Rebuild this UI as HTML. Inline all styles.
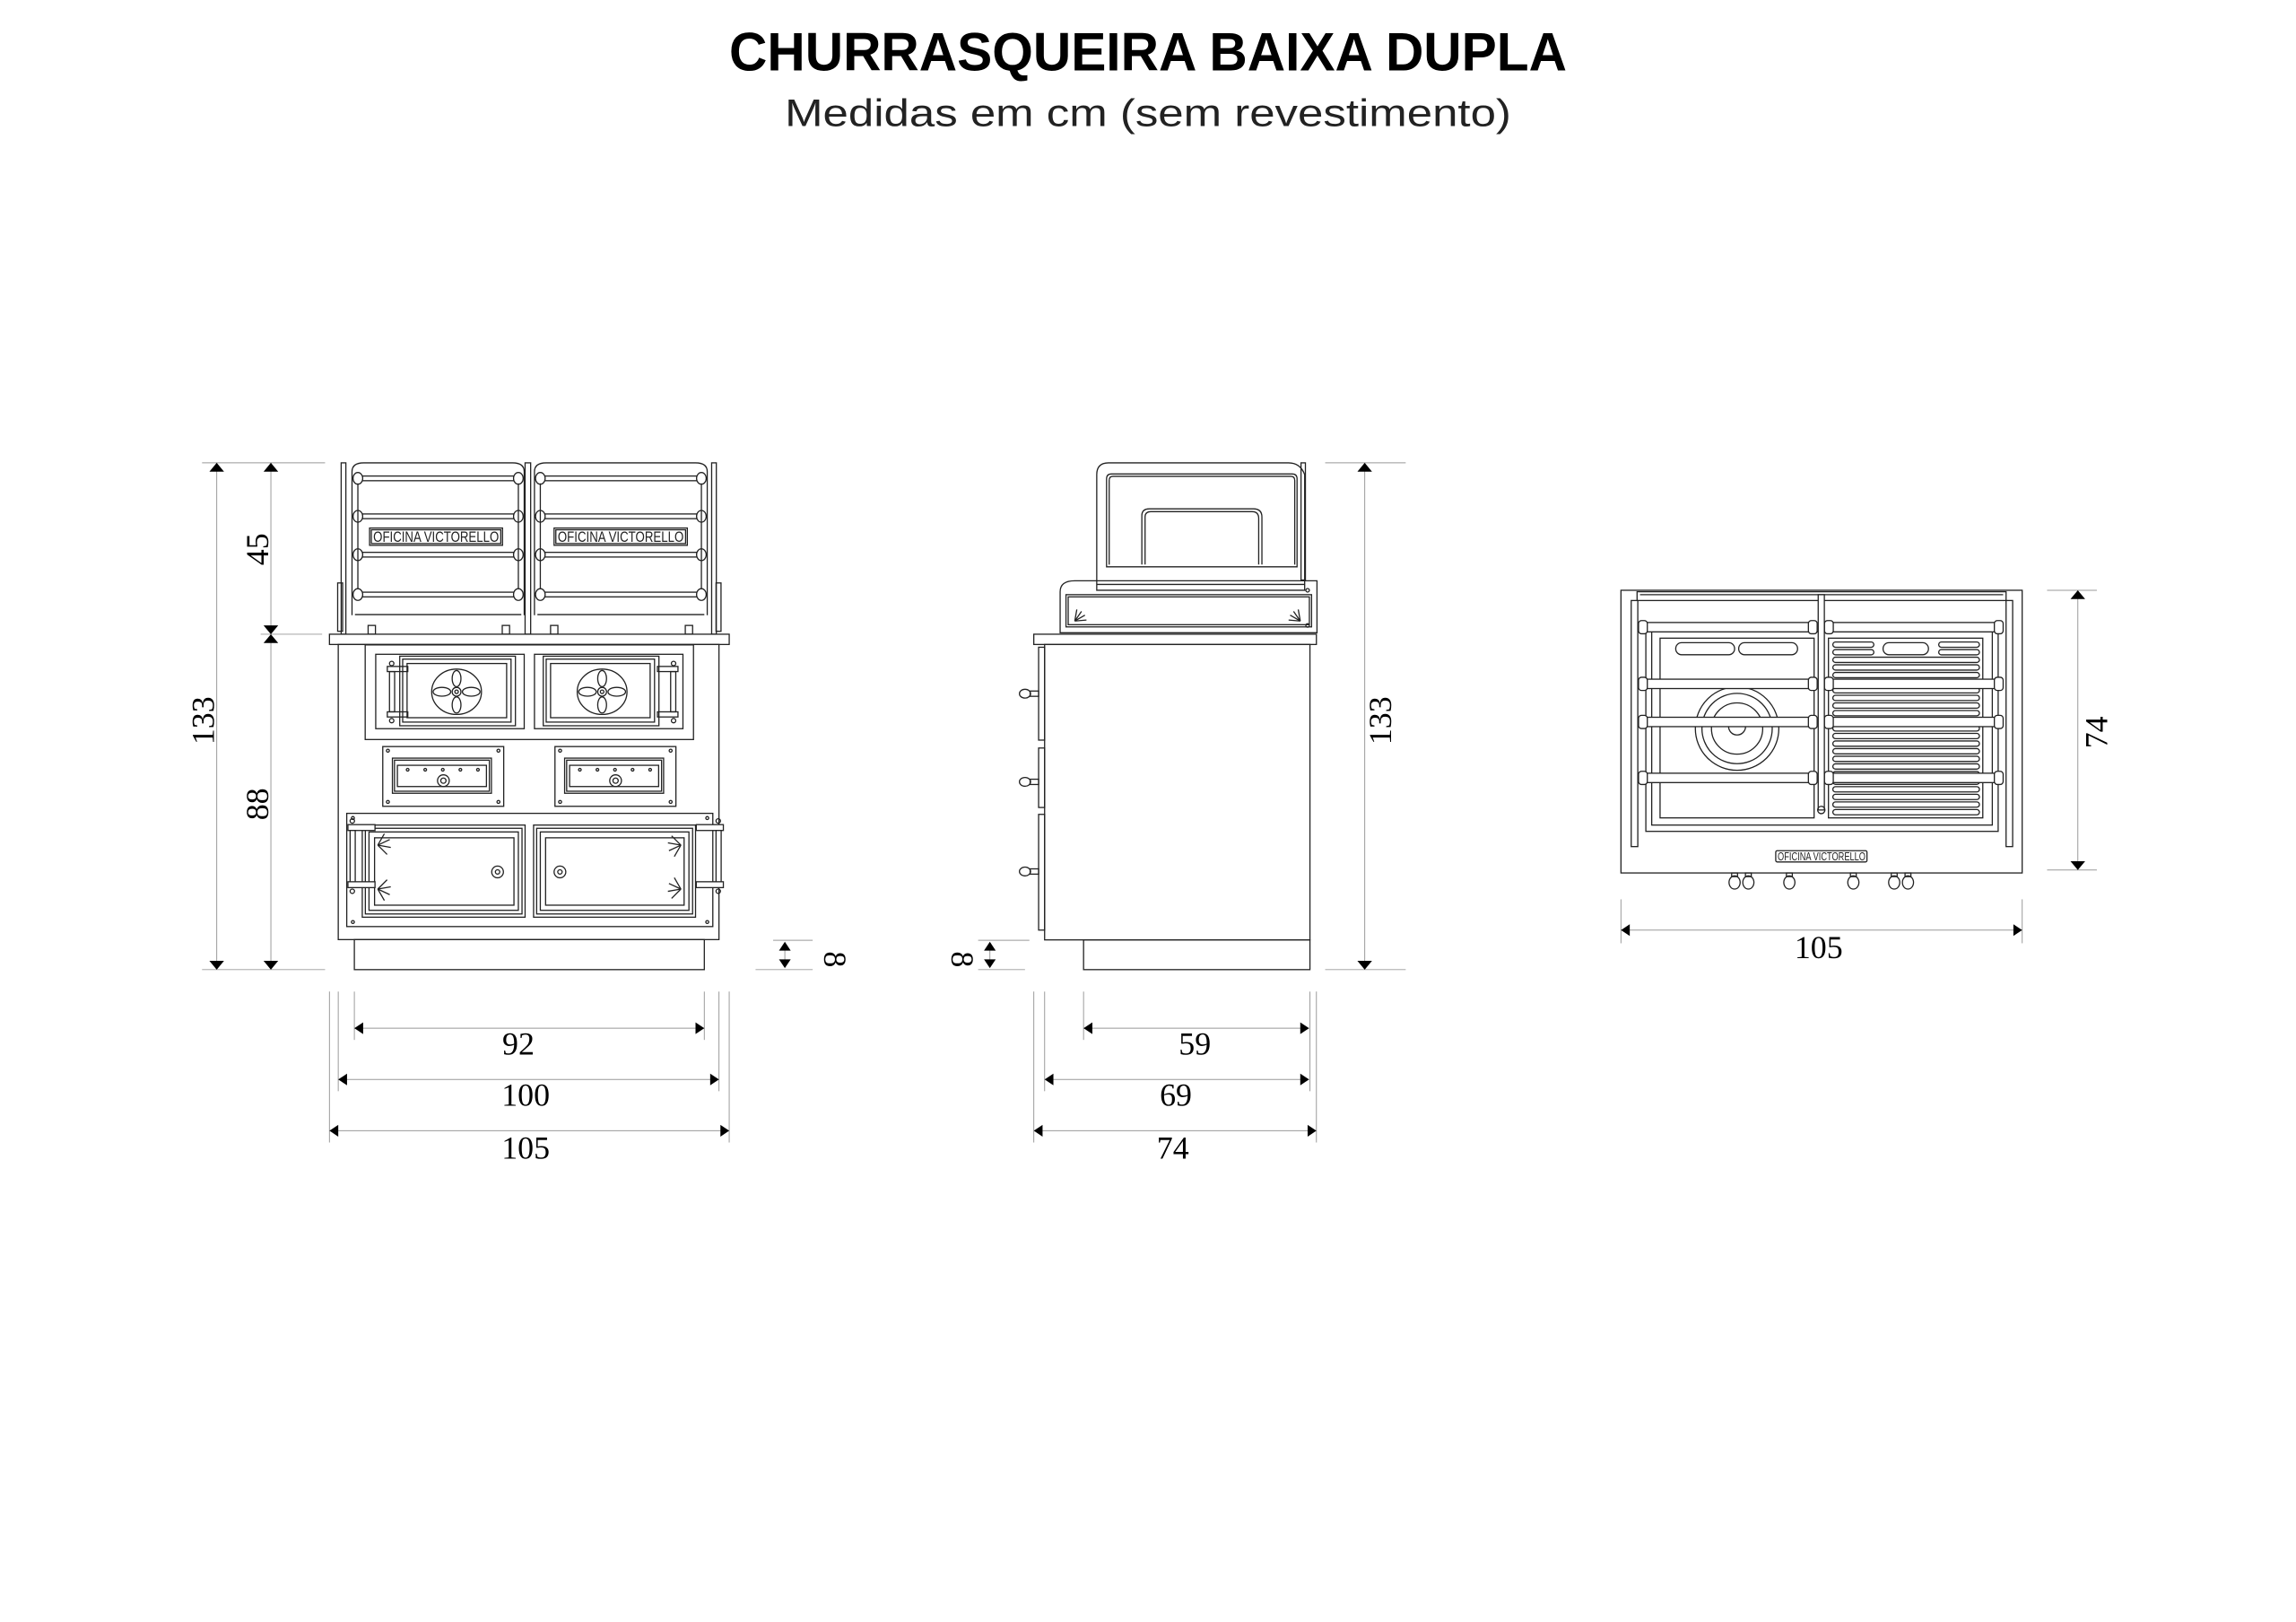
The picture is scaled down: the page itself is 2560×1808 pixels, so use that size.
<!DOCTYPE html>
<html><head><meta charset="utf-8">
<style>
html,body{margin:0;padding:0;background:#fff;}
svg{display:block;}
.l{stroke:#222;stroke-width:0.8;fill:none;}
.lf{stroke:#222;stroke-width:0.8;fill:#fff;}
.d{stroke:#999;stroke-width:0.6;fill:none;}
.a{fill:#000;stroke:none;}
.n{font-family:"Liberation Serif",serif;font-size:22px;fill:#000;text-anchor:middle;}
.p{font-family:"Liberation Sans",sans-serif;font-size:8px;fill:#222;}
</style></head>
<body>
<svg id="s" width="2560" height="1808" viewBox="0 0 1568 1107.4" preserveAspectRatio="none" xmlns="http://www.w3.org/2000/svg">
<text x="784" y="48" text-anchor="middle" textLength="572" lengthAdjust="spacingAndGlyphs" style="font-family:'Liberation Sans',sans-serif;font-weight:bold;font-size:37px;fill:#000">CHURRASQUEIRA BAIXA DUPLA</text>
<text x="784" y="86" text-anchor="middle" textLength="496" lengthAdjust="spacingAndGlyphs" style="font-family:'Liberation Sans',sans-serif;font-size:26px;fill:#222">Medidas em cm (sem revestimento)</text>

<!-- ============ FRONT VIEW ============ -->
<g id="front">
<line class="d" x1="138" y1="316" x2="222" y2="316"/>
<line class="d" x1="138" y1="662" x2="222" y2="662"/>
<line class="d" x1="178" y1="433" x2="220" y2="433"/>
<line class="d" x1="148" y1="316" x2="148" y2="662"/>
<line class="d" x1="185" y1="316" x2="185" y2="662"/>
<polygon class="a" points="148,316 143,322 153,322"/>
<polygon class="a" points="148,662 143,656 153,656"/>
<polygon class="a" points="185,316 180,322 190,322"/>
<polygon class="a" points="185,433 180,427 190,427"/>
<polygon class="a" points="185,433 180,439 190,439"/>
<polygon class="a" points="185,662 180,656 190,656"/>
<text class="n" transform="translate(146,492) rotate(-90)">133</text>
<text class="n" transform="translate(183,375) rotate(-90)">45</text>
<text class="n" transform="translate(183,549) rotate(-90)">88</text>
<line class="d" x1="528" y1="642" x2="555" y2="642"/>
<line class="d" x1="516" y1="662" x2="555" y2="662"/>
<line class="d" x1="536" y1="645" x2="536" y2="659"/>
<polygon class="a" points="536,643 532,649 540,649"/>
<polygon class="a" points="536,661 532,655 540,655"/>
<text class="n" transform="translate(563,655) rotate(90)">8</text>
<line class="d" x1="225" y1="677" x2="225" y2="780"/>
<line class="d" x1="498" y1="677" x2="498" y2="780"/>
<line class="d" x1="231" y1="677" x2="231" y2="745"/>
<line class="d" x1="491" y1="677" x2="491" y2="745"/>
<line class="d" x1="242" y1="677" x2="242" y2="710"/>
<line class="d" x1="481" y1="677" x2="481" y2="710"/>
<line class="d" x1="242" y1="702" x2="481" y2="702"/>
<polygon class="a" points="242,702 248,698 248,706"/><polygon class="a" points="481,702 475,698 475,706"/>
<line class="d" x1="231" y1="737" x2="491" y2="737"/>
<polygon class="a" points="231,737 237,733 237,741"/><polygon class="a" points="491,737 485,733 485,741"/>
<line class="d" x1="225" y1="772" x2="498" y2="772"/>
<polygon class="a" points="225,772 231,768 231,776"/><polygon class="a" points="498,772 492,768 492,776"/>
<text class="n" x="354" y="720">92</text>
<text class="n" x="359" y="755">100</text>
<text class="n" x="359" y="791">105</text>

<g id="rack"></g>
<rect class="lf" x="225" y="433" width="273" height="7"/>
<rect class="l" x="231" y="440" width="260" height="201.5"/>
<rect class="l" x="242" y="641.5" width="239" height="20.5"/>
<rect class="l" x="249.4" y="440.3" width="224.2" height="64.6"/>
<rect class="l" x="256.6" y="446.7" width="101.4" height="50.8"/>
<rect class="l" x="365" y="446.7" width="101.4" height="50.8"/>
<rect class="l" x="273" y="448" width="79" height="47.5"/><rect class="l" x="275" y="450" width="74" height="43"/><rect class="l" x="278" y="453" width="68" height="37"/>
<rect class="l" x="371" y="448" width="79" height="47.5"/><rect class="l" x="373" y="450" width="74" height="43"/><rect class="l" x="376" y="453" width="68" height="37"/>
<g id="ovens"></g>
<g id="drawers"></g>
<rect class="l" x="236.8" y="555.3" width="250" height="77.3"/>
<rect class="l" x="247.4" y="563.3" width="111.2" height="62.9"/><rect class="l" x="249.5" y="565.5" width="107" height="58.5"/><rect class="l" x="252" y="568" width="102" height="53.5"/>
<rect class="l" x="255.8" y="572" width="95.2" height="46"/>
<rect class="l" x="364.4" y="563.3" width="110.6" height="62.9"/><rect class="l" x="366.5" y="565.5" width="106.5" height="58.5"/><rect class="l" x="369" y="568" width="101.5" height="53.5"/>
<rect class="l" x="372.6" y="572" width="94.6" height="46"/>
<circle class="l" cx="339.8" cy="595.3" r="4"/><circle class="l" cx="339.8" cy="595.3" r="1.5"/>
<circle class="l" cx="382.4" cy="595.3" r="4"/><circle class="l" cx="382.4" cy="595.3" r="1.5"/>
<g id="lowerh"></g>
</g>

<!-- ============ SIDE VIEW ============ -->
<g id="side">
<line class="d" x1="905" y1="316" x2="960" y2="316"/>
<line class="d" x1="905" y1="662" x2="960" y2="662"/>
<line class="d" x1="932" y1="316" x2="932" y2="662"/>
<polygon class="a" points="932,316 927,322 937,322"/>
<polygon class="a" points="932,662 927,656 937,656"/>
<text class="n" transform="translate(950,492) rotate(-90)">133</text>
<line class="d" x1="668" y1="642" x2="703" y2="642"/>
<line class="d" x1="668" y1="662" x2="700" y2="662"/>
<line class="d" x1="676" y1="645" x2="676" y2="659"/>
<polygon class="a" points="676,643 672,649 680,649"/>
<polygon class="a" points="676,661 672,655 680,655"/>
<text class="n" transform="translate(650,655) rotate(90)">8</text>
<line class="d" x1="706" y1="677" x2="706" y2="780"/>
<line class="d" x1="899" y1="677" x2="899" y2="780"/>
<line class="d" x1="713.4" y1="677" x2="713.4" y2="745"/>
<line class="d" x1="894.6" y1="677" x2="894.6" y2="745"/>
<line class="d" x1="740" y1="677" x2="740" y2="710"/>
<line class="d" x1="740" y1="702" x2="894" y2="702"/>
<polygon class="a" points="740,702 746,698 746,706"/><polygon class="a" points="894,702 888,698 888,706"/>
<line class="d" x1="713.4" y1="737" x2="894" y2="737"/>
<polygon class="a" points="713.4,737 719.4,733 719.4,741"/><polygon class="a" points="894,737 888,733 888,741"/>
<line class="d" x1="706" y1="772" x2="899" y2="772"/>
<polygon class="a" points="706,772 712,768 712,776"/><polygon class="a" points="899,772 893,768 893,776"/>
<text class="n" x="816" y="720">59</text>
<text class="n" x="803" y="755">69</text>
<text class="n" x="801" y="791">74</text>

<rect class="lf" x="706" y="433" width="193" height="7"/>
<rect class="l" x="713.4" y="440" width="181.2" height="201.7"/>
<rect class="l" x="740" y="641.7" width="154.6" height="20.3"/>
<rect class="l" x="709.3" y="441.9" width="4.1" height="63.4"/>
<rect class="l" x="709.3" y="510.7" width="4.1" height="40.6"/>
<rect class="l" x="709.3" y="556" width="4.1" height="79"/>
<g id="sideh"></g>
<path class="l" d="M724,432 L724,404 Q724,396.5 734,396.5 L899.4,396.5 L899.4,432 Z"/>
<rect class="l" x="728" y="406" width="167.7" height="22"/>
<rect class="l" x="729.5" y="407.5" width="164.7" height="19"/>
<circle class="l" cx="893" cy="403" r="1.2"/><circle class="l" cx="893" cy="427" r="1.2"/>
<path class="l" d="M749,403 L749,324 Q749,316 757,316 L880,316 Q888,316 891,324 L891,403 Z"/>
<path class="l" d="M755.7,387 L755.7,327 Q755.7,323.6 759,323.6 L882.5,323.6 Q885.8,323.6 885.8,327 L885.8,387 Z"/>
<path class="l" d="M757.5,385.5 L757.5,328 Q757.5,325.2 760,325.2 L881.5,325.2 Q884.2,325.2 884.2,328 L884.2,385.5"/>
<path class="l" d="M779.8,385.4 L779.8,352 Q779.8,347.4 785,347.4 L856,347.4 Q861.8,347.4 861.8,353 L861.8,385.4"/>
<path class="l" d="M782,385.4 L782,353 Q782,349.3 786,349.3 L855,349.3 Q859.6,349.3 859.6,354 L859.6,385.4"/>
<rect class="l" x="888.5" y="316" width="3" height="80"/>
<line class="l" x1="749" y1="399" x2="891" y2="399"/>
<g id="sidefan"></g>
</g>

<!-- ============ TOP VIEW ============ -->
<g id="top">
<line class="d" x1="1398" y1="403" x2="1432" y2="403"/>
<line class="d" x1="1398" y1="594" x2="1432" y2="594"/>
<line class="d" x1="1419" y1="403" x2="1419" y2="594"/>
<polygon class="a" points="1419,403 1414,409 1424,409"/>
<polygon class="a" points="1419,594 1414,588 1424,588"/>
<text class="n" transform="translate(1439,500) rotate(-90)">74</text>
<line class="d" x1="1107" y1="614" x2="1107" y2="644"/>
<line class="d" x1="1381" y1="614" x2="1381" y2="644"/>
<line class="d" x1="1107" y1="635" x2="1381" y2="635"/>
<polygon class="a" points="1107,635 1113,631 1113,639"/><polygon class="a" points="1381,635 1375,631 1375,639"/>
<text class="n" x="1242" y="654">105</text>

<rect class="l" x="1107" y="403" width="274" height="193"/>
<rect class="l" x="1118" y="404" width="252" height="6"/>
<line class="l" x1="1120" y1="406" x2="1368" y2="406"/>
<rect class="l" x="1124" y="431.3" width="240.6" height="136.3"/>
<rect class="l" x="1128" y="431.3" width="232.6" height="132"/>
<rect class="l" x="1133.7" y="435.7" width="105.2" height="122.7"/>
<rect class="l" x="1248.7" y="435.7" width="105.4" height="122.7"/>
<rect class="l" x="1144.4" y="438.8" width="40.2" height="8.2" rx="4"/>
<rect class="l" x="1187.4" y="438.8" width="40.2" height="8.2" rx="4"/>
<circle class="l" cx="1186.3" cy="497.4" r="28.5"/>
<circle class="l" cx="1186.3" cy="497.4" r="24"/>
<circle class="l" cx="1186.3" cy="497.4" r="17.5"/>
<path class="l" d="M1180.5,496 A5.8,5.8 0 0 0 1192.1,496 Z"/>
<g id="grill"></g>
<rect class="lf" x="1114" y="410" width="4.5" height="168"/>
<rect class="lf" x="1370" y="410" width="4.5" height="168"/>
<rect class="lf" x="1241.7" y="406" width="4.2" height="147"/>
<circle class="l" cx="1243.8" cy="553" r="2.5"/>
<g id="trails"></g>
<rect class="l" x="1212.7" y="580.8" width="62.3" height="7.7" rx="1"/>
<text class="p" x="1244" y="587.3" text-anchor="middle" textLength="60" lengthAdjust="spacingAndGlyphs" style="font-size:8px">OFICINA VICTORELLO</text>
<g id="knobs"></g>
</g>
</svg>
<script>
var NS="http://www.w3.org/2000/svg";
function el(p,t,a){var e=document.createElementNS(NS,t);for(var k in a)e.setAttribute(k,a[k]);document.getElementById(p).appendChild(e);return e;}
[[240.4,358],[365,483]].forEach(function(p){
  var a=p[0],b=p[1];
  el("rack","path",{"class":"l",d:"M"+a+",420 L"+a+",322 Q"+a+",316 "+(a+8)+",316 L"+(b-8)+",316 Q"+b+",316 "+b+",322 L"+b+",420"});
  [326.6,352.5,378.7,405.9].forEach(function(y){
    el("rack","rect",{"class":"l",x:a+6,y:y-1.6,width:b-a-12,height:3.2});
    el("rack","ellipse",{"class":"lf",cx:a+4,cy:y,rx:3.3,ry:4});
    el("rack","ellipse",{"class":"lf",cx:b-4,cy:y,rx:3.3,ry:4});
  });
  el("rack","line",{"class":"l",x1:a+2,y1:419.6,x2:b-2,y2:419.6});
  el("rack","line",{"class":"l",x1:a+4,y1:330,x2:a+4,y2:402});
  el("rack","line",{"class":"l",x1:b-4,y1:330,x2:b-4,y2:402});
  el("rack","rect",{"class":"l",x:a+11,y:427,width:5,height:6});
  el("rack","rect",{"class":"l",x:b-15,y:427,width:5,height:6});
});
[[233,3.2],[358.6,3.8],[486,3.2]].forEach(function(p){el("rack","rect",{"class":"lf",x:p[0],y:316,width:p[1],height:117});});
el("rack","rect",{"class":"l",x:230.6,y:398,width:3.4,height:33});
el("rack","rect",{"class":"l",x:489,y:398,width:3.4,height:33});
[[252.4,343.2],[378.4,469.4]].forEach(function(p){
  el("rack","rect",{"class":"lf",x:p[0],y:360.5,width:p[1]-p[0],height:11.8});
  el("rack","rect",{"class":"l",x:p[0]+1.2,y:361.7,width:p[1]-p[0]-2.4,height:9.4});
  var t=el("rack","text",{"class":"p",x:(p[0]+p[1])/2,y:370,"text-anchor":"middle",textLength:p[1]-p[0]-5,lengthAdjust:"spacingAndGlyphs",style:"font-size:10px"});t.textContent="OFICINA VICTORELLO";
});
[[311.8,1],[411.2,-1]].forEach(function(p){
  var cx=p[0],cy=472.3;
  el("ovens","ellipse",{"class":"l",cx:cx,cy:cy,rx:17,ry:15.5});
  el("ovens","circle",{"class":"l",cx:cx,cy:cy,r:3});el("ovens","circle",{"class":"l",cx:cx,cy:cy,r:1.2});
  el("ovens","ellipse",{"class":"l",cx:cx,cy:cy-9,rx:3,ry:5.5});
  el("ovens","ellipse",{"class":"l",cx:cx,cy:cy+9,rx:3,ry:5.5});
  el("ovens","ellipse",{"class":"l",cx:cx-10,cy:cy,rx:6,ry:3});
  el("ovens","ellipse",{"class":"l",cx:cx+10,cy:cy,rx:6,ry:3});
  var hx=p[1]>0?264.5:449;
  el("ovens","rect",{"class":"l",x:hx,y:455,width:14,height:3.5});
  el("ovens","rect",{"class":"l",x:hx,y:486,width:14,height:3.5});
  el("ovens","rect",{"class":"l",x:hx+(p[1]>0?1.5:9),y:458.5,width:3.5,height:27.5});
  el("ovens","circle",{"class":"l",cx:hx+(p[1]>0?3:11),cy:453,r:1.5});
  el("ovens","circle",{"class":"l",cx:hx+(p[1]>0?3:11),cy:492,r:1.5});
});
[261.4,379].forEach(function(x){
  el("drawers","rect",{"class":"l",x:x,y:509.7,width:82.6,height:40.8});
  el("drawers","rect",{"class":"l",x:x+6.6,y:517.6,width:67.6,height:24});
  el("drawers","rect",{"class":"l",x:x+8,y:519,width:64.8,height:21.2});
  el("drawers","rect",{"class":"l",x:x+10,y:522.5,width:60.8,height:14.5});
  [x+3.5,x+79].forEach(function(sx){[512.5,547.5].forEach(function(sy){el("drawers","circle",{"class":"l",cx:sx,cy:sy,r:1});});});
  for(var i=0;i<5;i++)el("drawers","circle",{"class":"l",cx:x+17+i*12,cy:525.5,r:0.9});
  el("drawers","circle",{"class":"l",cx:x+41.4,cy:533,r:4});el("drawers","circle",{"class":"l",cx:x+41.4,cy:533,r:1.8});
});
[[237.6,1],[475.5,-1]].forEach(function(p){
  var x=p[0];
  el("lowerh","rect",{"class":"lf",x:x,y:563,width:18.5,height:4});
  el("lowerh","rect",{"class":"lf",x:x,y:602,width:18.5,height:4});
  el("lowerh","rect",{"class":"lf",x:(p[1]>0?x+1.5:x+13.5),y:567,width:3.5,height:35});
  el("lowerh","circle",{"class":"l",cx:(p[1]>0?x+3:x+15),cy:560.5,r:1.5});
  el("lowerh","circle",{"class":"l",cx:(p[1]>0?x+3:x+15),cy:608.5,r:1.5});
  var fx=p[1]>0?258:465;
  [577,607].forEach(function(fy){for(var k=0;k<4;k++){var ang=(-60+k*35)*Math.PI/180*p[1];
    el("lowerh","line",{"class":"l",x1:fx,y1:fy,x2:fx+p[1]*9*Math.cos(ang),y2:fy+9*Math.sin(ang)*(fy<590?1:-1),"stroke-width":"1.4"});}});
});
[[241,558.5],[483,558.5],[241,629.5],[483,629.5]].forEach(function(c){el("lowerh","circle",{"class":"l",cx:c[0],cy:c[1],r:1});});
[473.6,533.8,595].forEach(function(y){
  el("sideh","ellipse",{"class":"l",cx:700,cy:y,rx:3.8,ry:3});
  el("sideh","rect",{"class":"l",x:703.5,y:y-1.8,width:5.8,height:3.6});
});
[[734,1],[888,-1]].forEach(function(p){for(var k=0;k<4;k++){var ang=(-80+k*25)*Math.PI/180;
  el("sidefan","line",{"class":"l",x1:p[0],y1:424,x2:p[0]+p[1]*8*Math.cos(ang),y2:424+8*Math.sin(ang),"stroke-width":"1.3"});}});
for(var i=0;i<23;i++){var y=438.3+i*5.2;
  if(i==0||i==1){el("grill","rect",{"class":"l",x:1251.7,y:y,width:28,height:3.6,rx:1.8});el("grill","rect",{"class":"l",x:1324,y:y,width:27.8,height:3.6,rx:1.8});}
  else el("grill","rect",{"class":"l",x:1251.7,y:y,width:100.1,height:3.6,rx:1.8});}
el("grill","rect",{"class":"lf",x:1286,y:438.8,width:31,height:8.2,rx:4});
[428.2,466.9,492.9,531.1].forEach(function(y){
  [[1119,1241],[1246,1368]].forEach(function(p){
    el("trails","rect",{"class":"lf",x:p[0]+4,y:y-3.2,width:p[1]-p[0]-8,height:6.4});
    el("trails","rect",{"class":"lf",x:p[0],y:y-4.5,width:6,height:9,rx:2});
    el("trails","rect",{"class":"lf",x:p[1]-6,y:y-4.5,width:6,height:9,rx:2});
  });
});
[1184.6,1194,1222,1265.7,1293.6,1303].forEach(function(x){
  el("knobs","rect",{"class":"l",x:x-2,y:596,width:4,height:2.5});
  el("knobs","ellipse",{"class":"l",cx:x,cy:602.5,rx:3.8,ry:4.5});
});
</script>
</body></html>
